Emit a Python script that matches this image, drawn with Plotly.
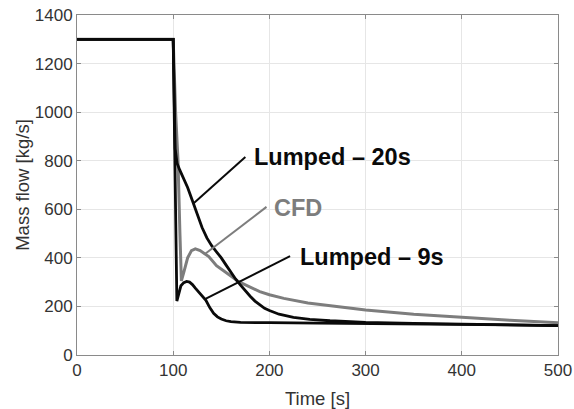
import plotly.graph_objects as go

# Time series (s) and mass flow (kg/s) for each model
t_cfd = [0, 100, 102.5, 105, 107, 108.5, 111, 115, 119, 123, 128, 137, 145, 151, 160,
         168, 180, 190, 200, 215, 240, 263, 300, 350, 400, 450, 500]
m_cfd = [1300, 1300, 1000, 800, 500, 305, 340, 400, 430, 437, 430, 405, 368, 352, 325,
         302, 278, 261, 248, 233, 214, 202, 185, 168, 154, 143, 133]

t_l20 = [0, 100, 102, 104, 107, 110, 115, 120, 125, 130, 135, 140, 145, 150, 155, 160,
         165, 170, 175, 180, 185, 190, 195, 200, 210, 225, 242, 263, 300, 350, 400, 450, 500]
m_l20 = [1300, 1300, 850, 790, 760, 735, 690, 635, 580, 525, 482, 450, 425, 400, 370, 340,
         312, 288, 264, 242, 222, 205, 192, 183, 168, 155, 147, 141, 134, 130, 127, 124, 121]

t_l9 = [0, 100, 103.8, 106, 108, 111, 114, 117, 120, 123, 126, 130, 134, 138, 142, 146,
        150, 155, 160, 170, 180, 200, 250, 300, 350, 400, 450, 500]
m_l9 = [1300, 1300, 222, 262, 285, 298, 303, 300, 290, 275, 262, 245, 225, 195, 172, 157,
        148, 141, 137, 134, 133, 133, 131, 130, 128, 126, 124, 121]

# Callout labels: text, anchor on the curve (t), text position (t, m), colour
labels = ["Lumped \u2013 20s", "CFD", "Lumped \u2013 9s"]
label_curve_t = [121, 133, 133]
label_tail = [(175, 815), (197, 610), (221.5, 407)]
label_pos = [(181.7, 816), (203.1, 604), (230.1, 405)]

BLACK = "#0a0a0a"
GRAY = "#7d7d7d"
FONT = "Arial, Liberation Sans, sans-serif"

fig = go.Figure()
fig.add_trace(go.Scatter(x=t_cfd, y=m_cfd, mode="lines",
                         line=dict(color=GRAY, width=3), name="CFD"))
fig.add_trace(go.Scatter(x=t_l20, y=m_l20, mode="lines",
                         line=dict(color=BLACK, width=2.8), name="Lumped - 20s"))
fig.add_trace(go.Scatter(x=t_l9, y=m_l9, mode="lines",
                         line=dict(color=BLACK, width=2.8), name="Lumped - 9s"))


def interp(ts, ms, t):
    for i in range(1, len(ts)):
        if ts[i] >= t:
            f = (t - ts[i - 1]) / (ts[i] - ts[i - 1])
            return ms[i - 1] + f * (ms[i] - ms[i - 1])
    return ms[-1]


series = [(t_l20, m_l20, BLACK), (t_cfd, m_cfd, GRAY), (t_l9, m_l9, BLACK)]
for (ts, ms, col), text, tc, tail, pos in zip(series, labels, label_curve_t,
                                              label_tail, label_pos):
    fig.add_shape(type="line", xref="x", yref="y",
                  x0=tc, y0=interp(ts, ms, tc), x1=tail[0], y1=tail[1],
                  line=dict(color=col, width=2))
    fig.add_annotation(x=pos[0], y=pos[1], text="<b>%s</b>" % text, showarrow=False,
                       xanchor="left", yanchor="middle",
                       font=dict(family=FONT, size=23.5, color=col))

axis_common = dict(
    automargin=False,
    showline=True, linecolor="#8a8a8a", linewidth=1, mirror="ticks",
    ticks="inside", ticklen=4, tickcolor="#8a8a8a",
    showgrid=True, gridcolor="#e6e6e6", gridwidth=1, zeroline=False,
    tickfont=dict(family=FONT, size=17, color="#333333"),
)

fig.update_layout(
    template="none",
    width=574, height=409,
    margin=dict(l=77, r=16, t=15, b=54, autoexpand=False),
    paper_bgcolor="white", plot_bgcolor="white",
    showlegend=False,
    xaxis=dict(range=[0, 500], tickvals=[0, 100, 200, 300, 400, 500],
               title=dict(text="Time [s]",
                          font=dict(family=FONT, size=18.5, color="#333333")),
               **axis_common),
    yaxis=dict(range=[0, 1400], tickvals=[0, 200, 400, 600, 800, 1000, 1200, 1400],
               title=dict(text="Mass flow [kg/s]",
                          font=dict(family=FONT, size=18.5, color="#333333")),
               **axis_common),
)

fig.write_html("out.html")
